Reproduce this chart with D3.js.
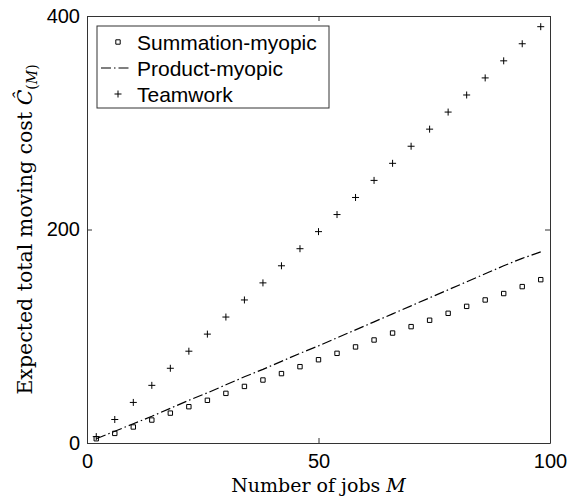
<!DOCTYPE html>
<html>
<head>
<meta charset="utf-8">
<script src="https://cdn.jsdelivr.net/npm/d3@7"></script>
<style>
  body { margin: 0; background: #fff; }
  svg { display: block; }
</style>
</head>
<body>
<div id="container"></div>
<script>
const WIDTH = 575;
const HEIGHT = 496;
const LEFT = 87;
const RIGHT = 550;
const TOP = 16;
const BOTTOM = 443;

// number of jobs M
const jobs = [2, 6, 10, 14, 18, 22, 26, 30, 34, 38, 42, 46, 50, 54, 58, 62, 66, 70, 74, 78, 82, 86, 90, 94, 98];
const summation = [4, 9, 15, 21.5, 28, 34, 40, 46.5, 53, 59, 65, 71.5, 78, 84, 90, 96.5, 103, 109, 115, 121.5, 128, 134, 140, 146.5, 153];
const product = [4, 11, 18, 25, 32.5, 40, 47, 54.5, 62, 69, 76.5, 84, 91, 98.5, 106, 113.5, 121, 128.5, 136, 143.5, 151, 158.5, 166, 173, 179];
const teamwork = [6, 22, 38, 54, 70, 86, 102, 118, 134, 150, 166, 182, 198, 214, 230, 246, 262, 278, 294, 310, 326, 342, 358, 374, 390];

const xTicks = [0, 50, 100];
const yTicks = [0, 200, 400];
const legendLabels = ["Summation-myopic", "Product-myopic", "Teamwork"];

const AXIS_COLOR = "#333";
const TICK_FONT = "'Liberation Sans', Arial, sans-serif";
const LABEL_FONT = "'DejaVu Serif', serif";

const svg = d3
  .select("div#container")
  .append("svg")
  .attr("width", WIDTH)
  .attr("height", HEIGHT);

const xScale = d3.scaleLinear().domain([0, 100]).range([LEFT, RIGHT]);
const yScale = d3.scaleLinear().domain([0, 400]).range([BOTTOM, TOP]);

// axes, ticks pointing inward like MATLAB
const styleAxis = (g) => {
  g.selectAll("path.domain").attr("stroke", AXIS_COLOR).attr("stroke-width", 1);
  g.selectAll(".tick line").attr("stroke", AXIS_COLOR);
  g.selectAll(".tick text")
    .attr("fill", "#000")
    .style("font-family", TICK_FONT)
    .style("font-size", "20px");
};

svg
  .append("g")
  .attr("transform", `translate(0, ${BOTTOM})`)
  .call(d3.axisBottom(xScale).tickValues(xTicks).tickSizeInner(-5).tickSizeOuter(0).tickPadding(11))
  .call(styleAxis);

svg
  .append("g")
  .attr("transform", `translate(0, ${TOP})`)
  .call(d3.axisTop(xScale).tickValues(xTicks).tickSizeInner(-5).tickSizeOuter(0).tickFormat(""))
  .call(styleAxis);

svg
  .append("g")
  .attr("transform", `translate(${LEFT}, 0)`)
  .call(d3.axisLeft(yScale).tickValues(yTicks).tickSizeInner(-5).tickSizeOuter(0).tickPadding(7))
  .call(styleAxis);

svg
  .append("g")
  .attr("transform", `translate(${RIGHT}, 0)`)
  .call(d3.axisRight(yScale).tickValues(yTicks).tickSizeInner(-5).tickSizeOuter(0).tickFormat(""))
  .call(styleAxis);

// Product-myopic: dash-dot line
const line = d3
  .line()
  .x((d) => xScale(d[0]))
  .y((d) => yScale(d[1]));

svg
  .append("path")
  .datum(d3.zip(jobs, product))
  .attr("d", line)
  .attr("fill", "none")
  .attr("stroke", "#000")
  .attr("stroke-width", 1.2)
  .attr("stroke-dasharray", "10,3,1.5,3");

const squarePath = "M-2.2,-2.2H2.2V2.2H-2.2Z";
const plusPath = "M-3.5,0H3.5M0,-3.5V3.5";

// Summation-myopic: small open squares
svg
  .append("g")
  .selectAll("path")
  .data(d3.zip(jobs, summation))
  .enter()
  .append("path")
  .attr("d", squarePath)
  .attr("transform", (d) => `translate(${xScale(d[0])}, ${yScale(d[1])})`)
  .attr("fill", "none")
  .attr("stroke", "#000")
  .attr("stroke-width", 1);

// Teamwork: plus markers
svg
  .append("g")
  .selectAll("path")
  .data(d3.zip(jobs, teamwork))
  .enter()
  .append("path")
  .attr("d", plusPath)
  .attr("transform", (d) => `translate(${xScale(d[0])}, ${yScale(d[1])})`)
  .attr("fill", "none")
  .attr("stroke", "#000")
  .attr("stroke-width", 1);

// legend
const legend = svg.append("g").attr("transform", "translate(97, 26)");
legend
  .append("rect")
  .attr("width", 232)
  .attr("height", 82)
  .attr("fill", "#fff")
  .attr("stroke", AXIS_COLOR)
  .attr("stroke-width", 1);

const rows = legend
  .selectAll("g.row")
  .data(legendLabels)
  .enter()
  .append("g")
  .attr("class", "row")
  .attr("transform", (_, i) => `translate(0, ${16 + i * 26})`);

rows
  .append("text")
  .attr("x", 40)
  .attr("dy", "0.36em")
  .style("font-family", TICK_FONT)
  .style("font-size", "21px")
  .text((d) => d);

rows.filter((_, i) => i === 0)
  .append("path")
  .attr("d", squarePath)
  .attr("transform", "translate(21, 0)")
  .attr("fill", "none")
  .attr("stroke", "#000");

rows.filter((_, i) => i === 1)
  .append("line")
  .attr("x1", 4)
  .attr("x2", 33)
  .attr("stroke", "#000")
  .attr("stroke-width", 1.2)
  .attr("stroke-dasharray", "10,3,1.5,3");

rows.filter((_, i) => i === 2)
  .append("path")
  .attr("d", plusPath)
  .attr("transform", "translate(21, 0)")
  .attr("fill", "none")
  .attr("stroke", "#000");

// axis titles
svg
  .append("text")
  .attr("x", (LEFT + RIGHT) / 2)
  .attr("y", 491.5)
  .attr("text-anchor", "middle")
  .style("font-family", LABEL_FONT)
  .style("font-size", "19px")
  .call((t) => {
    t.append("tspan").text("Number of jobs ");
    t.append("tspan").style("font-style", "italic").text("M");
  });

const yTitle = svg
  .append("text")
  .attr("transform", `translate(32, ${(TOP + BOTTOM) / 2}) rotate(-90)`)
  .attr("text-anchor", "middle")
  .style("font-family", LABEL_FONT)
  .style("font-size", "20.5px");
yTitle.append("tspan").text("Expected total moving cost ");
yTitle.append("tspan").style("font-style", "italic").text("Ĉ");
yTitle.append("tspan").attr("dy", 5).style("font-size", "14px").text("(");
yTitle.append("tspan").style("font-size", "14px").style("font-style", "italic").text("M");
yTitle.append("tspan").style("font-size", "14px").text(")");
</script>
</body>
</html>
